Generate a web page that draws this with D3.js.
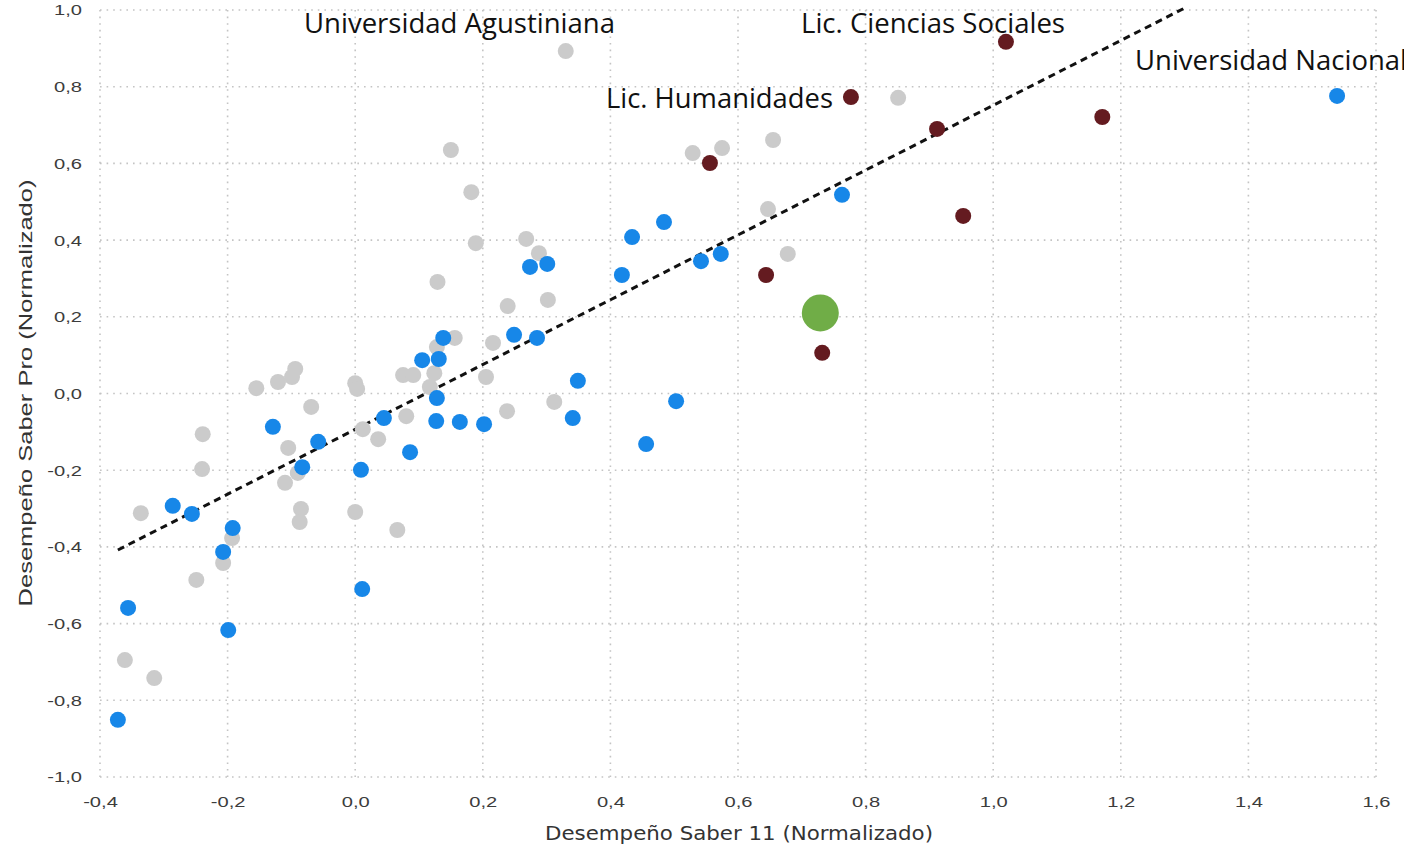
<!DOCTYPE html>
<html>
<head>
<meta charset="utf-8">
<script src="https://cdn.jsdelivr.net/npm/d3@7"></script>
<style>
  html, body { margin: 0; padding: 0; background: #ffffff; }
  svg { display: block; }
</style>
</head>
<body>
<svg id="chart" width="1404" height="849"></svg>
<script>
// ---------- data ----------
const xTicks = [-0.4, -0.2, 0.0, 0.2, 0.4, 0.6, 0.8, 1.0, 1.2, 1.4, 1.6];
const yTicks = [-1.0, -0.8, -0.6, -0.4, -0.2, 0.0, 0.2, 0.4, 0.6, 0.8, 1.0];

const xTitle = "Desempeño Saber 11 (Normalizado)";
const yTitle = "Desempeño Saber Pro (Normalizado)";

// other programs (gray)
const grayX = [0.330, 0.851, 0.655, 0.529, 0.575, 0.150, 0.182, 0.189, 0.268, 0.288,
               0.129, 0.647, 0.678, 0.302, 0.239, 0.156, 0.216, 0.128, 0.075, 0.091,
               0.124, 0.117, 0.000, 0.003, -0.094, -0.099, -0.121, -0.155, -0.069, 0.080,
               0.012, 0.036, -0.105, -0.090, -0.110, -0.085, -0.087, 0.000, 0.066, -0.336,
               -0.239, -0.240, -0.249, -0.207, -0.193, -0.361, -0.315, 0.205, 0.312, 0.238];
const grayY = [0.893, 0.771, 0.661, 0.627, 0.640, 0.635, 0.525, 0.392, 0.403, 0.366,
               0.291, 0.481, 0.364, 0.244, 0.228, 0.145, 0.132, 0.121, 0.048, 0.048,
               0.053, 0.017, 0.027, 0.012, 0.064, 0.043, 0.030, 0.014, -0.035, -0.059,
               -0.093, -0.119, -0.142, -0.207, -0.233, -0.301, -0.335, -0.309, -0.356, -0.312,
               -0.106, -0.197, -0.486, -0.442, -0.377, -0.695, -0.742, 0.043, -0.022, -0.046];

// blue programs
const blueX = [1.539, 0.763, 0.484, 0.434, 0.418, 0.542, 0.573, 0.274, 0.301, 0.249,
               0.285, 0.138, 0.105, 0.131, 0.349, 0.503, 0.128, 0.127, 0.164, 0.202,
               0.341, 0.456, 0.045, -0.058, -0.129, -0.083, 0.086, 0.009, -0.286, -0.256,
               -0.192, -0.207, -0.356, -0.199, 0.011, -0.372];
const blueY = [0.776, 0.518, 0.447, 0.408, 0.309, 0.345, 0.364, 0.330, 0.338, 0.153,
               0.145, 0.145, 0.087, 0.090, 0.033, -0.020, -0.012, -0.072, -0.074, -0.080,
               -0.064, -0.132, -0.064, -0.126, -0.087, -0.192, -0.153, -0.199, -0.293, -0.314,
               -0.351, -0.413, -0.559, -0.617, -0.510, -0.851];

// dark red programs
const redX = [1.020, 0.777, 0.912, 1.171, 0.953, 0.556, 0.644, 0.732];
const redY = [0.917, 0.773, 0.690, 0.721, 0.463, 0.601, 0.309, 0.106];

// highlighted program (green)
const greenX = [0.729];
const greenY = [0.210];

// trend line endpoints
const trendX = [-0.372, 1.300];
const trendY = [-0.408, 1.005];

// annotations
const labelText = ["Universidad Agustiniana", "Lic. Ciencias Sociales", "Lic. Humanidades", "Universidad Nacional"];

// ---------- drawing ----------
const svg = d3.select("#chart");
const x = d3.scaleLinear().domain([-0.4, 1.6]).range([100, 1376]);
const y = d3.scaleLinear().domain([-1, 1]).range([777, 10]);
const fmt = v => d3.format(".1f")(v).replace(".", ",").replace("−", "-");

// grid
const grid = svg.append("g").attr("stroke", "#c4c4c4").attr("stroke-width", 1.6)
  .attr("stroke-dasharray", "1.6,5").attr("fill", "none");
grid.selectAll("line.h").data(yTicks).join("line").attr("class", "h")
  .attr("x1", x(-0.4)).attr("x2", x(1.6)).attr("y1", d => y(d)).attr("y2", d => y(d));
grid.selectAll("line.v").data(xTicks).join("line").attr("class", "v")
  .attr("y1", y(1)).attr("y2", y(-1)).attr("x1", d => x(d)).attr("x2", d => x(d));

// axes (labels only)
const tickFont = "'Liberation Sans', Arial, sans-serif";
const stretch = 1.3;
const gx = svg.append("g").attr("transform", `translate(0,${y(-1)})`)
  .call(d3.axisBottom(x).tickValues(xTicks).tickSize(0).tickPadding(19).tickFormat(fmt));
const gy = svg.append("g").attr("transform", `translate(${x(-0.4)},0)`)
  .call(d3.axisLeft(y).tickValues(yTicks).tickSize(0).tickPadding(18).tickFormat(fmt));
[gx, gy].forEach(g => {
  g.select(".domain").remove();
  g.selectAll("text").attr("fill", "#3c3c3c").style("font-family", tickFont)
    .style("font-size", "15.5px").attr("transform", `scale(${stretch},1)`);
});
gy.selectAll("text").attr("x", -18 / stretch);

// axis titles
svg.append("text").attr("x", 739).attr("y", 840).attr("text-anchor", "middle")
  .style("font-family", "'Liberation Sans Narrow', 'DejaVu Sans Condensed', sans-serif")
  .style("font-size", "19px").attr("fill", "#333")
  .attr("textLength", 388).attr("lengthAdjust", "spacingAndGlyphs").text(xTitle);
svg.append("text").attr("transform", "translate(32,393) rotate(-90)").attr("text-anchor", "middle")
  .style("font-family", "'Liberation Sans', Arial, sans-serif").style("font-size", "19px").attr("fill", "#333")
  .attr("textLength", 427).attr("lengthAdjust", "spacingAndGlyphs").text(yTitle);

// trend line
svg.append("path")
  .datum(d3.zip(trendX, trendY))
  .attr("d", d3.line().x(d => x(d[0])).y(d => y(d[1])))
  .attr("fill", "none").attr("stroke", "#111").attr("stroke-width", 3)
  .attr("stroke-dasharray", "7,5");

// points
function drawPoints(xs, ys, color, r) {
  svg.append("g").selectAll("circle").data(d3.zip(xs, ys)).join("circle")
    .attr("cx", d => x(d[0])).attr("cy", d => y(d[1])).attr("r", r)
    .attr("fill", color);
}
drawPoints(grayX, grayY, "#cbcbcb", 8);
drawPoints(blueX, blueY, "#1787e8", 8);
drawPoints(redX, redY, "#641b20", 8);
drawPoints(greenX, greenY, "#70ad47", 18.5);

// annotations
const labelPos = [[304, 33, 311], [801, 33, 264], [606, 108, 227], [1135, 70, 272]];
svg.append("g").selectAll("text").data(labelText).join("text")
  .attr("x", (d, i) => labelPos[i][0]).attr("y", (d, i) => labelPos[i][1])
  .attr("textLength", (d, i) => labelPos[i][2]).attr("lengthAdjust", "spacingAndGlyphs")
  .style("font-family", "'Open Sans', 'Noto Sans', sans-serif").style("font-size", "27px")
  .attr("fill", "#111").text(d => d);
</script>
</body>
</html>
